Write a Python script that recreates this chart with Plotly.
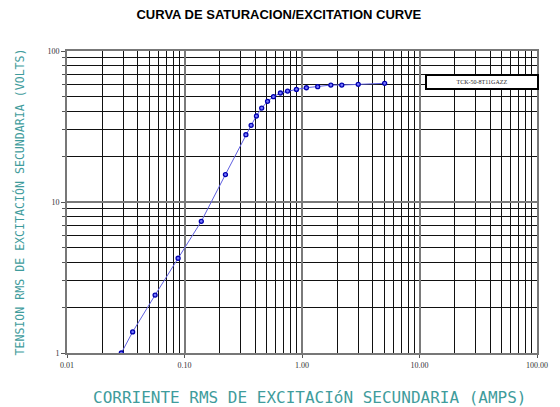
import plotly.graph_objects as go

# Data
current_amps = [0.029, 0.0362, 0.0562, 0.0882, 0.139, 0.223, 0.333, 0.369, 0.409, 0.454,
                0.509, 0.572, 0.655, 0.754, 0.897, 1.09, 1.36, 1.76, 2.18, 3.01, 5.05]
voltage_volts = [1.0, 1.38, 2.42, 4.24, 7.45, 15.2, 27.9, 32.2, 37.1, 41.9,
                 46.4, 49.8, 52.7, 54.3, 55.7, 57.1, 58.0, 59.5, 59.5, 60.2, 61.1]
series_name = "TCK-50-8T11GAZZ"

x_tickvals = [0.01, 0.1, 1, 10, 100]
x_ticktext = ["0.01", "0.10", "1.00", "10.00", "100.00"]
y_tickvals = [1, 10, 100]
y_ticktext = ["1", "10", "100"]

fig = go.Figure()
fig.add_trace(go.Scatter(
    x=current_amps, y=voltage_volts, mode="lines+markers", name=series_name,
    line=dict(color="#6060e0", width=1),
    marker=dict(symbol="circle", size=4, color="#7878ff",
                line=dict(color="#0000b0", width=1.3)),
    showlegend=False,
))

teal = "#3f9c9c"
fig.update_layout(
    width=560, height=407,
    margin=dict(l=67, r=17, t=51, b=54),
    paper_bgcolor="white", plot_bgcolor="white",
    title=dict(text="<b>CURVA DE SATURACION/EXCITATION CURVE</b>",
               font=dict(family="Liberation Sans, Arial", size=13, color="black"),
               x=0.498, xanchor="center", y=0.964, yanchor="middle"),
    xaxis=dict(type="log", range=[-2, 2],
               tickvals=x_tickvals, ticktext=x_ticktext,
               tickfont=dict(family="Liberation Serif, Times New Roman", size=8, color="#333"),
               ticks="outside", ticklen=3, tickcolor="#555",
               showgrid=True, gridcolor="#7a7a7a", gridwidth=2,
               minor=dict(dtick="D1", showgrid=True, gridcolor="#111", gridwidth=1.2,
                          ticks=""),
               showline=True, linecolor="#777", linewidth=2, mirror=True,
               zeroline=False),
    yaxis=dict(type="log", range=[0, 2],
               tickvals=y_tickvals, ticktext=y_ticktext,
               tickfont=dict(family="Liberation Serif, Times New Roman", size=8, color="#333"),
               ticks="outside", ticklen=4, tickcolor="#555",
               showgrid=True, gridcolor="#7a7a7a", gridwidth=2,
               minor=dict(dtick="D1", showgrid=True, gridcolor="#111", gridwidth=1.2,
                          ticks="outside", ticklen=3, tickcolor="#555"),
               showline=True, linecolor="#777", linewidth=2, mirror=True,
               zeroline=False,
               title=dict(text="TENSION RMS DE EXCITACIÓN SECUNDARIA (VOLTS)",
                          font=dict(family="DejaVu Sans Mono", size=11.6, color=teal),
                          standoff=20)),
)

# x-axis title (placed as annotation to match its off-centre position)
fig.add_annotation(
    xref="paper", yref="paper", x=0.517, y=-0.146, xanchor="center", yanchor="middle",
    text="CORRIENTE RMS DE EXCITACIóN SECUNDARIA (AMPS)", showarrow=False,
    font=dict(family="DejaVu Sans Mono", size=16, color=teal),
)

fig.add_annotation(
    xref="paper", yref="paper", x=0.882, y=0.899, xanchor="center", yanchor="middle",
    text=series_name, showarrow=False,
    font=dict(family="Liberation Serif, Times New Roman", size=6, color="#222"),
    bgcolor="white", bordercolor="black", borderwidth=2, width=108, height=10,
)

fig.write_html("out.html", config={"displayModeBar": False},
               post_script="document.body.style.margin='0';document.body.style.overflow='hidden';")
